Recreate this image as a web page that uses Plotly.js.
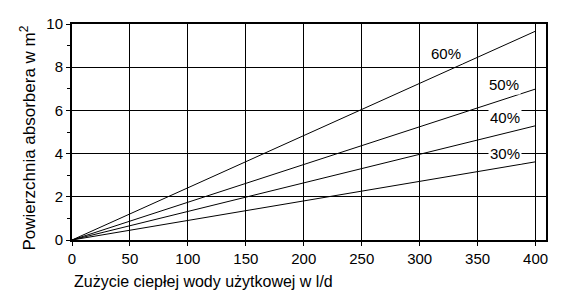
<!DOCTYPE html>
<html><head><meta charset="utf-8">
<script src="https://cdn.plot.ly/plotly-3.0.1.min.js"></script>
<style>html,body{margin:0;padding:0;background:#fff}#chart{width:574px;height:304px}</style>
</head><body><div id="chart"></div>
<script>
// Data (lines from origin to 400 l/d)
const consumption = [0, 400];
const area60 = [0, 9.67];
const area50 = [0, 6.99];
const area40 = [0, 5.29];
const area30 = [0, 3.62];
const seriesNames = ['60%', '50%', '40%', '30%'];
const labelX = [323, 373, 373.5, 373.5];
const labelY = [8.62, 7.19, 5.65, 4.02];
const xTicks = [0, 50, 100, 150, 200, 250, 300, 350, 400];
const yTicks = [0, 2, 4, 6, 8, 10];

const font = "'Liberation Sans', Arial, Helvetica, sans-serif";
const series = [area60, area50, area40, area30];
const traces = series.map((ys, i) => ({
  x: consumption, y: ys, type: 'scatter', mode: 'lines',
  name: seriesNames[i], line: {color: '#000', width: 1}, hoverinfo: 'skip'
}));

const annotations = seriesNames.map((t, i) => ({
  x: labelX[i], y: labelY[i], xref: 'x', yref: 'y', text: t, showarrow: false,
  font: {family: font, size: 15, color: '#000'}, bgcolor: '#fff', borderpad: 1
}));
annotations.push({
  x: 0, y: -0.19, xref: 'paper', yref: 'paper', xanchor: 'left', yanchor: 'middle',
  text: 'Zużycie ciepłej wody użytkowej w l/d', showarrow: false,
  font: {family: font, size: 16, color: '#000'}
});
annotations.push({
  x: -0.0928, y: 0.47, xref: 'paper', yref: 'paper', xanchor: 'center', yanchor: 'middle',
  textangle: -90, text: 'Powierzchnia absorbera w m<sup>2</sup>', showarrow: false,
  font: {family: font, size: 17, color: '#000'}
});

const layout = {
  width: 574, height: 304,
  margin: {l: 72, r: 28, t: 24, b: 64},
  paper_bgcolor: '#fff', plot_bgcolor: '#fff',
  showlegend: false,
  font: {family: font, size: 15, color: '#000'},
  xaxis: {
    range: [0, 409], tickvals: xTicks, ticktext: xTicks.map(String),
    showgrid: true, gridcolor: '#000', gridwidth: 1,
    showline: true, linecolor: '#000', linewidth: 2, mirror: true,
    ticks: 'outside', ticklen: 4, tickwidth: 1, tickcolor: '#000',
    zeroline: false, tickfont: {family: font, size: 15, color: '#000'}
  },
  yaxis: {
    range: [0, 10], tickvals: yTicks, ticktext: yTicks.map(String),
    showgrid: true, gridcolor: '#000', gridwidth: 1,
    showline: true, linecolor: '#000', linewidth: 2, mirror: true,
    ticks: 'outside', ticklen: 4, tickwidth: 1, tickcolor: '#000',
    minor: {dtick: 1, ticks: 'outside', ticklen: 3, tickwidth: 1, tickcolor: '#000', showgrid: false},
    zeroline: false, tickfont: {family: font, size: 15, color: '#000'}
  },
  annotations: annotations
};
Plotly.newPlot('chart', traces, layout, {staticPlot: true, displayModeBar: false});
</script></body></html>
